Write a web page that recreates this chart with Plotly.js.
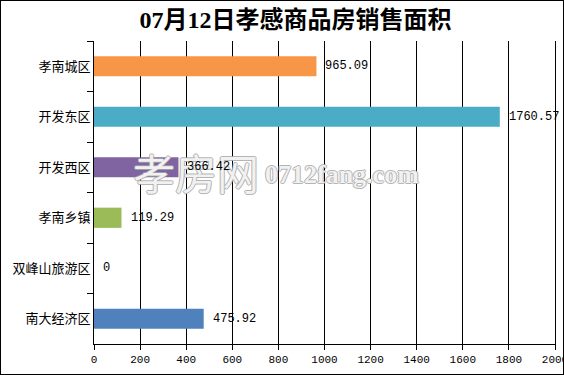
<!DOCTYPE html>
<html><head><meta charset="utf-8">
<script src="https://cdn.plot.ly/plotly-3.0.1.min.js"></script>
<style>
html,body{margin:0;padding:0;background:#fff;}
#chart{width:562px;height:373px;border:1px solid #000;}
</style></head>
<body><div id="chart"></div>
<script>
const categories = ["孝南城区","开发东区","开发西区","孝南乡镇","双峰山旅游区","南大经济区"];
const areas = [965.09, 1760.57, 366.42, 119.29, 0, 475.92];
const barColors = ["#F79646","#4BACC6","#8064A2","#9BBB59","#C0504D","#4F81BD"];
const xTicks = [0,200,400,600,800,1000,1200,1400,1600,1800,2000];
const xMax = 2000;
const titleText = "07月12日孝感商品房销售面积";

const labels = areas.map(v => v === 0 ? "0" : v.toFixed(2));

const trace = {
  type: "bar",
  orientation: "h",
  y: categories,
  x: areas,
  marker: {color: barColors},
  textposition: "none",
  hoverinfo: "none"
};

const wmShadow = "-1px 0 #a8a8a8, 1px 0 #a8a8a8, 0 -1px #a8a8a8, 0 1px #a8a8a8";

const watermark = [
  {xref: "paper", yref: "paper", x: 0.222, y: 0.568, xanchor: "center", yanchor: "middle",
   text: "孝房网", showarrow: false,
   font: {family: "Noto Sans CJK SC", size: 42, color: "rgba(255,255,255,0.85)", shadow: wmShadow}},
  {xref: "paper", yref: "paper", x: 0.538, y: 0.56, xanchor: "center", yanchor: "middle",
   text: "0712fang.com", showarrow: false,
   font: {family: "Liberation Serif", size: 26, weight: "bold", color: "rgba(255,255,255,0.85)", shadow: wmShadow}}
];

const valueLabels = categories.map((c, i) => ({
  xref: "x", yref: "y", x: areas[i], y: c, xanchor: "left", yanchor: "middle",
  xshift: 7, text: labels[i], showarrow: false,
  font: {family: "Liberation Mono, monospace", size: 12, color: "#000"}
}));

const layout = {
  width: 562, height: 373,
  margin: {l: 93, r: 8, t: 40, b: 30},
  paper_bgcolor: "#fff", plot_bgcolor: "#fff",
  showlegend: false,
  bargap: 0.6,
  title: {text: titleText, x: 0.524, xanchor: "center", y: 0.95, yanchor: "middle",
          font: {family: "Liberation Serif, Noto Sans CJK SC", size: 24, color: "#000", weight: "bold"}},
  xaxis: {
    range: [0, xMax], tickvals: xTicks, ticktext: xTicks.map(String),
    ticklabeloverflow: "allow",
    showgrid: true, gridcolor: "#000", gridwidth: 1,
    showline: true, linecolor: "#000", linewidth: 1,
    ticks: "outside", ticklen: 5, tickcolor: "#000",
    zeroline: false, fixedrange: true,
    tickfont: {family: "Liberation Mono, monospace", size: 11, color: "#000"}
  },
  yaxis: {
    type: "category", categoryorder: "array", categoryarray: categories,
    autorange: "reversed",
    showline: true, mirror: true, linecolor: "#000", linewidth: 1,
    ticks: "outside", tickson: "boundaries", ticklen: 6, tickcolor: "#000",
    showgrid: false, fixedrange: true,
    tickfont: {family: "Noto Sans CJK SC", size: 13, color: "#000"}
  },
  annotations: watermark.concat(valueLabels)
};

Plotly.newPlot("chart", [trace], layout, {displayModeBar: false, staticPlot: true});
</script></body></html>
